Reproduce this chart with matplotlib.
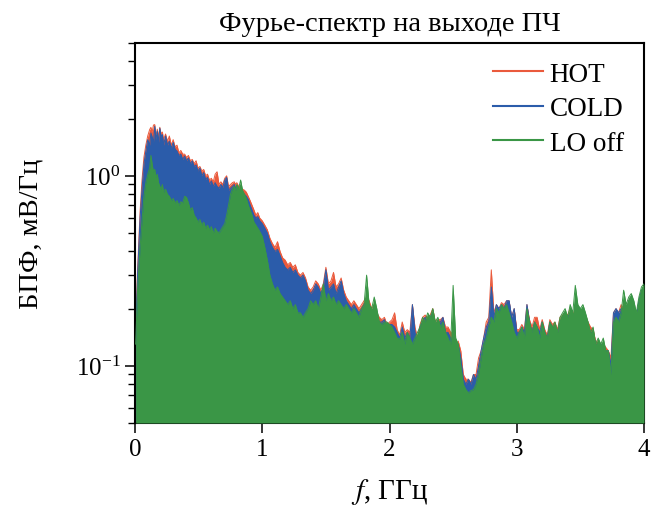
import matplotlib
matplotlib.use("Agg")
import matplotlib.pyplot as plt
import numpy as np

# frequency grid (GHz) and envelope values (mV/Hz)
freq = [0.005, 0.02, 0.04, 0.055, 0.07, 0.085, 0.10, 0.115, 0.125, 0.135, 0.145, 0.155, 0.165, 0.175, 0.185,
        0.195, 0.205, 0.215, 0.225, 0.24, 0.255, 0.27, 0.285, 0.30, 0.315, 0.33, 0.345, 0.36, 0.375, 0.39,
        0.405, 0.42, 0.435, 0.45, 0.465, 0.48, 0.495, 0.51, 0.525, 0.54, 0.555, 0.57, 0.585, 0.60, 0.615,
        0.63, 0.645, 0.66, 0.675, 0.69, 0.705, 0.72, 0.735, 0.75, 0.765, 0.78, 0.79, 0.80, 0.815, 0.83,
        0.845, 0.86, 0.875, 0.89, 0.905, 0.92, 0.935, 0.95, 0.965, 0.98, 1.00, 1.02, 1.04, 1.06, 1.08,
        1.10, 1.12, 1.14, 1.16, 1.18, 1.20, 1.22, 1.24, 1.26, 1.28, 1.30, 1.32, 1.34, 1.36, 1.38,
        1.40, 1.42, 1.44, 1.46, 1.48, 1.50, 1.52, 1.54, 1.56, 1.58, 1.60, 1.62, 1.64, 1.66, 1.68,
        1.70, 1.72, 1.74, 1.76, 1.78, 1.80, 1.82, 1.84, 1.86, 1.88, 1.90, 1.92, 1.94, 1.96, 1.98,
        2.00, 2.02, 2.04, 2.06, 2.08, 2.10, 2.12, 2.14, 2.16, 2.18, 2.20, 2.22, 2.24, 2.26, 2.28,
        2.30, 2.32, 2.34, 2.36, 2.38, 2.40, 2.42, 2.44, 2.46, 2.48, 2.50, 2.52, 2.54, 2.56, 2.58,
        2.60, 2.62, 2.64, 2.66, 2.68, 2.70, 2.72, 2.74, 2.76, 2.78, 2.80, 2.82, 2.84, 2.86, 2.88,
        2.90, 2.92, 2.94, 2.96, 2.98, 3.00, 3.02, 3.04, 3.06, 3.08, 3.10, 3.12, 3.14, 3.16, 3.18,
        3.20, 3.22, 3.24, 3.26, 3.28, 3.30, 3.32, 3.34, 3.36, 3.38, 3.40, 3.42, 3.44, 3.46, 3.48,
        3.50, 3.52, 3.54, 3.56, 3.58, 3.60, 3.62, 3.64, 3.66, 3.68, 3.70, 3.72, 3.74, 3.76, 3.78,
        3.80, 3.82, 3.84, 3.86, 3.88, 3.90, 3.92, 3.94, 3.96, 3.98, 4.00]

lo_off = [0.13, 0.25, 0.42, 0.58, 0.78, 0.92, 1.02, 1.10, 1.28, 1.15, 1.05, 1.08, 0.98, 1.02, 0.92,
          0.88, 0.85, 0.90, 0.82, 0.85, 0.80, 0.78, 0.74, 0.76, 0.72, 0.74, 0.70, 0.73, 0.72, 0.78,
          0.77, 0.72, 0.66, 0.68, 0.62, 0.60, 0.57, 0.59, 0.55, 0.57, 0.53, 0.55, 0.52, 0.54, 0.50,
          0.53, 0.51, 0.50, 0.52, 0.54, 0.56, 0.62, 0.70, 0.80, 0.85, 0.88, 0.84, 0.90, 0.86, 0.95,
          0.84, 0.80, 0.76, 0.70, 0.66, 0.62, 0.57, 0.55, 0.53, 0.51, 0.48, 0.42, 0.36, 0.30, 0.27,
          0.25, 0.26, 0.24, 0.23, 0.22, 0.21, 0.22, 0.20, 0.21, 0.19, 0.19, 0.18, 0.19, 0.20, 0.22,
          0.21, 0.22, 0.20, 0.23, 0.27, 0.22, 0.24, 0.22, 0.23, 0.21, 0.22, 0.21, 0.20, 0.21, 0.20,
          0.19, 0.20, 0.19, 0.18, 0.20, 0.21, 0.30, 0.21, 0.20, 0.23, 0.20, 0.17, 0.165, 0.17, 0.17,
          0.165, 0.16, 0.15, 0.14, 0.138, 0.15, 0.13, 0.15, 0.14, 0.13, 0.14, 0.15, 0.16, 0.18, 0.17,
          0.19, 0.18, 0.20, 0.17, 0.18, 0.16, 0.17, 0.15, 0.14, 0.13, 0.265, 0.14, 0.13, 0.10, 0.08,
          0.075, 0.072, 0.074, 0.075, 0.08, 0.09, 0.11, 0.13, 0.14, 0.16, 0.18, 0.17, 0.20, 0.19, 0.21,
          0.20, 0.21, 0.19, 0.17, 0.15, 0.14, 0.15, 0.16, 0.14, 0.20, 0.17, 0.15, 0.17, 0.16, 0.14,
          0.17, 0.15, 0.14, 0.17, 0.16, 0.17, 0.15, 0.18, 0.19, 0.20, 0.18, 0.21, 0.19, 0.265, 0.21,
          0.20, 0.21, 0.19, 0.17, 0.15, 0.16, 0.13, 0.14, 0.13, 0.14, 0.12, 0.12, 0.09, 0.17, 0.18,
          0.17, 0.19, 0.25, 0.21, 0.23, 0.24, 0.22, 0.19, 0.23, 0.26, 0.27]

cold = [0.15, 0.30, 0.60, 0.85, 1.15, 1.35, 1.55, 1.45, 1.68, 1.60, 1.50, 1.82, 1.55, 1.72, 1.50,
        1.78, 1.60, 1.65, 1.45, 1.62, 1.45, 1.52, 1.40, 1.50, 1.38, 1.35, 1.28, 1.30, 1.22, 1.27,
        1.20, 1.24, 1.16, 1.20, 1.12, 1.14, 1.06, 1.10, 1.00, 1.04, 0.96, 0.98, 0.90, 0.94, 0.88,
        0.92, 0.88, 0.86, 0.90, 0.87, 0.95, 0.98, 0.84, 0.86, 0.88, 0.90, 0.86, 0.88, 0.84, 0.85,
        0.82, 0.80, 0.78, 0.75, 0.70, 0.66, 0.62, 0.60, 0.61, 0.58, 0.56, 0.53, 0.50, 0.45, 0.42,
        0.40, 0.41, 0.38, 0.35, 0.33, 0.32, 0.33, 0.31, 0.32, 0.30, 0.29, 0.30, 0.28, 0.25, 0.24,
        0.25, 0.27, 0.26, 0.24, 0.26, 0.32, 0.25, 0.26, 0.27, 0.24, 0.26, 0.28, 0.24, 0.22, 0.21,
        0.20, 0.21, 0.20, 0.19, 0.20, 0.21, 0.22, 0.21, 0.19, 0.20, 0.18, 0.17, 0.17, 0.175, 0.16,
        0.165, 0.165, 0.16, 0.15, 0.14, 0.16, 0.14, 0.15, 0.14, 0.21, 0.15, 0.13, 0.16, 0.17, 0.18,
        0.17, 0.18, 0.19, 0.16, 0.17, 0.17, 0.18, 0.15, 0.15, 0.14, 0.14, 0.12, 0.13, 0.11, 0.085,
        0.08, 0.085, 0.08, 0.09, 0.085, 0.10, 0.12, 0.14, 0.16, 0.17, 0.26, 0.18, 0.21, 0.20, 0.21,
        0.20, 0.22, 0.22, 0.18, 0.20, 0.15, 0.15, 0.16, 0.15, 0.21, 0.17, 0.15, 0.17, 0.16, 0.15,
        0.17, 0.15, 0.14, 0.17, 0.16, 0.16, 0.15, 0.17, 0.18, 0.19, 0.18, 0.19, 0.18, 0.19, 0.19,
        0.19, 0.20, 0.18, 0.16, 0.15, 0.15, 0.13, 0.13, 0.13, 0.13, 0.12, 0.12, 0.10, 0.19, 0.20,
        0.19, 0.20, 0.20, 0.19, 0.22, 0.23, 0.21, 0.18, 0.22, 0.25, 0.26]

hot = [0.16, 0.32, 0.65, 0.95, 1.25, 1.45, 1.62, 1.75, 1.80, 1.70, 1.85, 1.86, 1.62, 1.76, 1.60,
       1.80, 1.66, 1.70, 1.55, 1.66, 1.52, 1.62, 1.45, 1.55, 1.42, 1.45, 1.32, 1.36, 1.30, 1.30,
       1.25, 1.28, 1.20, 1.22, 1.16, 1.20, 1.10, 1.12, 1.06, 1.08, 1.00, 1.02, 0.95, 0.97, 0.93,
       1.02, 1.05, 0.90, 0.93, 0.90, 0.97, 1.00, 0.88, 0.90, 0.92, 0.93, 0.90, 0.92, 0.88, 0.88,
       0.85, 0.84, 0.82, 0.78, 0.74, 0.70, 0.66, 0.62, 0.64, 0.60, 0.58, 0.55, 0.52, 0.47, 0.44,
       0.42, 0.45, 0.40, 0.37, 0.36, 0.34, 0.35, 0.33, 0.34, 0.31, 0.30, 0.31, 0.29, 0.26, 0.25,
       0.26, 0.28, 0.27, 0.25, 0.27, 0.33, 0.27, 0.28, 0.31, 0.26, 0.27, 0.29, 0.25, 0.23, 0.22,
       0.21, 0.22, 0.21, 0.20, 0.21, 0.22, 0.23, 0.22, 0.20, 0.21, 0.19, 0.18, 0.175, 0.18, 0.165,
       0.17, 0.175, 0.19, 0.155, 0.145, 0.17, 0.15, 0.155, 0.15, 0.21, 0.16, 0.14, 0.165, 0.18, 0.185,
       0.18, 0.185, 0.20, 0.17, 0.175, 0.175, 0.18, 0.16, 0.16, 0.15, 0.15, 0.125, 0.135, 0.12, 0.09,
       0.085, 0.085, 0.082, 0.09, 0.09, 0.11, 0.12, 0.14, 0.17, 0.18, 0.32, 0.19, 0.21, 0.20, 0.215,
       0.21, 0.22, 0.22, 0.18, 0.20, 0.155, 0.155, 0.165, 0.155, 0.21, 0.175, 0.16, 0.18, 0.18, 0.155,
       0.175, 0.155, 0.145, 0.175, 0.165, 0.17, 0.155, 0.18, 0.185, 0.19, 0.185, 0.20, 0.185, 0.20, 0.195,
       0.195, 0.20, 0.185, 0.17, 0.16, 0.155, 0.135, 0.135, 0.13, 0.13, 0.125, 0.12, 0.11, 0.19, 0.20,
       0.19, 0.21, 0.20, 0.19, 0.22, 0.23, 0.21, 0.18, 0.22, 0.25, 0.26]

series_labels = ["HOT", "COLD", "LO off"]
colors = ["#ea5a3c", "#2b5caa", "#3a9646"]
title = "Фурье-спектр на выходе ПЧ"
xlabel = "$f$, ГГц"
ylabel = "БПФ, мВ/Гц"
xticks = [0, 1, 2, 3, 4]

plt.rcParams["font.family"] = ["Liberation Serif", "DejaVu Serif"]
plt.rcParams["mathtext.fontset"] = "stix"

fig = plt.figure(figsize=(6.6, 5.06), dpi=100)
ax = fig.add_axes([135 / 660, 1 - 424 / 506, (644 - 135) / 660, (424 - 44) / 506])

ymin = 0.05
f = np.array(freq)
for vals, col, lab, z in zip([hot, cold, lo_off], colors, series_labels, [1, 2, 3]):
    v = np.array(vals)
    ax.fill_between(f, ymin, v, color=col, linewidth=0, zorder=z)
    ax.plot(f, v, color=col, linewidth=0.7, zorder=z, label=lab)

ax.set_yscale("log")
ax.set_ylim(ymin, 5)
ax.set_xlim(0, 4)
ax.set_xticks(xticks)
ax.set_xticklabels([str(t) for t in xticks])

for s in ax.spines.values():
    s.set_linewidth(1.5)
ax.tick_params(axis="both", which="major", direction="out", length=7, width=1.1, labelsize=18)
ax.tick_params(axis="y", which="minor", direction="out", length=5, width=1.0)
ax.tick_params(axis="x", which="minor", bottom=False)

ax.set_title(title, fontsize=20.5, pad=9)
ax.set_xlabel(xlabel, fontsize=21, labelpad=12)
ax.set_ylabel(ylabel, fontsize=20.5, labelpad=23)

handles = [plt.Line2D([], [], color=c, linewidth=1.5) for c in colors]
ax.legend(handles, series_labels, loc="upper right", frameon=False, fontsize=19.5,
          handlelength=1.85, handletextpad=0.25, labelspacing=0.35,
          bbox_to_anchor=(1.008, 1.015))

fig.savefig("out.png", dpi=100)
